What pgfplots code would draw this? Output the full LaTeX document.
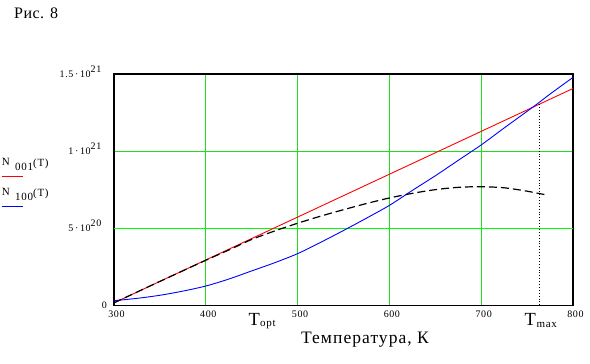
\documentclass[border=0pt]{standalone}
\usepackage{pgfplots}
\pgfplotsset{compat=1.18}
\usepackage{pgfplotstable}
\usepackage{fontspec}
\setmainfont{Liberation Serif}
\newfontfamily\spaced[LetterSpace=6]{Liberation Serif}
\newfontfamily\spacedb[LetterSpace=3]{Liberation Serif}
\definecolor{gridgreen}{RGB}{30,220,30}
\definecolor{brightgreen}{RGB}{0,255,0}

\pgfplotstableread{
T N
300 0.016
350 0.155
400 0.292
430 0.372
450 0.427
475 0.482
500 0.532
525 0.578
550 0.620
575 0.660
600 0.696
625 0.726
650 0.750
675 0.765
700 0.769
725 0.762
750 0.740
773 0.713
}\blacktab

\pgfplotstableread{
T N
300 0.030
325 0.045
350 0.065
375 0.092
400 0.125
425 0.170
450 0.223
475 0.276
500 0.335
525 0.408
550 0.485
575 0.565
600 0.648
625 0.745
650 0.840
675 0.940
700 1.040
725 1.150
750 1.258
763 1.315
775 1.370
800 1.478
}\bluetab

\begin{document}
\begin{tikzpicture}
\path[use as bounding box] (-114pt,-58.7pt) rectangle (476pt,305.3pt);
\begin{axis}[
  at={(0pt,0pt)}, anchor=south west,
  scale only axis, width=459pt, height=231.3pt,
  xmin=300, xmax=800, ymin=0, ymax=1.5,
  axis line style={line width=1.1pt, black},
  xtick={300,400,500,600,700,800},
  ytick={0,0.5,1,1.5},
  yticklabels={{0\kern-7pt},{5\,·\,10\raisebox{5pt}{20}},{1\,·\,10\raisebox{5pt}{21}},{1.5\,·\,10\raisebox{5pt}{21}}},
  major tick length=0pt,
  xmajorgrids, ymajorgrids,
  grid style={color=gridgreen, line width=0.8pt},
  xticklabel style={font=\spaced\fontsize{10}{12}\selectfont, inner sep=0pt, anchor=north, yshift=-5.5pt, xshift=2.5pt},
  yticklabel style={font=\spaced\fontsize{10}{11}\selectfont, inner sep=0pt, anchor=base east, xshift=-12.5pt, yshift=-3.5pt},
  /pgf/number format/assume math mode=true,
  clip=false,
]
\addplot[brightgreen, line width=1.3pt] coordinates {(300,0.5) (800,0.5)};
\addplot[red, line width=0.9pt] coordinates {(300,0.016) (400,0.294) (500,0.572) (600,0.850) (700,1.128) (800,1.406)};
\addplot[blue, line width=0.9pt, smooth] table[x=T, y=N] {\bluetab};
\addplot[black, line width=1.2pt, dash pattern=on 8pt off 4pt, smooth] table[x=T, y=N] {\blacktab};
\addplot[black, line width=0.9pt, dotted] coordinates {(763,0) (763,1.31)};
\end{axis}
\begin{scope}[shift={(-114pt,305.3pt)}, x=1pt, y=-1pt]
  \node[anchor=base west, inner sep=0pt, font=\spacedb\fontsize{16}{20}\selectfont] at (14,18.3) {Рис. 8};
  \node[anchor=base, inner sep=0pt, font=\spaced\fontsize{17.5}{20}\selectfont] at (365,344) {Температура, К};
  % T_opt
  \node[anchor=base west, inner sep=0pt, font=\fontsize{18.5}{20}\selectfont] at (248.5,325.5) {T};
  \node[anchor=base west, inner sep=0pt, font=\spaced\fontsize{11}{12}\selectfont] at (260,327) {opt};
  % T_max
  \node[anchor=base west, inner sep=0pt, font=\fontsize{18.5}{20}\selectfont] at (524.5,325.5) {T};
  \node[anchor=base west, inner sep=0pt, font=\spaced\fontsize{11}{12}\selectfont] at (536.5,327.3) {max};
  % legend
  \node[anchor=base west, inner sep=0pt, font=\spaced\fontsize{11}{12}\selectfont] at (1.7,165.7) {N};
  \node[anchor=base west, inner sep=0pt, font=\spaced\fontsize{11}{12}\selectfont] at (15,170.5) {001};
  \node[anchor=base west, inner sep=0pt, font=\spaced\fontsize{11}{12}\selectfont] at (33,166.5) {(T)};
  \draw[red, line width=1.3pt] (1.7,176.5) -- (22.7,176.5);
  \node[anchor=base west, inner sep=0pt, font=\spaced\fontsize{11}{12}\selectfont] at (1.7,195.3) {N};
  \node[anchor=base west, inner sep=0pt, font=\spaced\fontsize{11}{12}\selectfont] at (15,200.5) {100};
  \node[anchor=base west, inner sep=0pt, font=\spaced\fontsize{11}{12}\selectfont] at (33,196.5) {(T)};
  \draw[blue, line width=1.3pt] (1.7,206.5) -- (22.7,206.5);
\end{scope}
\end{tikzpicture}
\end{document}
